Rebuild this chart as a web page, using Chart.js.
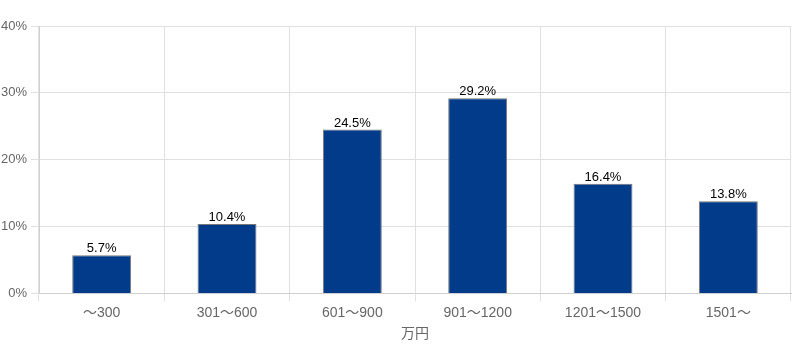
<!DOCTYPE html>
<html><head><meta charset="utf-8">
<script src="https://cdn.jsdelivr.net/npm/chart.js@4/dist/chart.umd.min.js"></script>
<style>html,body{margin:0;padding:0;background:#fff}#wrap{width:792px;height:361px}</style>
</head><body><div id="wrap"><canvas id="c" width="792" height="361"></canvas></div>
<script>
const categories = ["〜300", "301〜600", "601〜900", "901〜1200", "1201〜1500", "1501〜"];
const values = [5.7, 10.4, 24.5, 29.2, 16.4, 13.8];
const yTicks = [0, 10, 20, 30, 40];
const xTitle = "万円";
const FONT = "'Liberation Sans', Arial, 'Noto Sans CJK JP', sans-serif";

const labelPlugin = {
  id: 'barLabels',
  afterDatasetsDraw(chart) {
    const ctx = chart.ctx;
    const meta = chart.getDatasetMeta(0);
    ctx.save();
    ctx.font = "13px " + FONT;
    ctx.fillStyle = "#000";
    ctx.textAlign = "center";
    ctx.textBaseline = "bottom";
    meta.data.forEach((el, i) => {
      ctx.fillText(values[i].toFixed(1) + "%", el.x, el.y);
    });
    ctx.restore();
  }
};

new Chart(document.getElementById('c'), {
  type: 'bar',
  data: {
    labels: categories,
    datasets: [{
      data: values,
      backgroundColor: '#023b89',
      borderColor: '#777777',
      borderWidth: 1,
      categoryPercentage: 0.94,
      barPercentage: 0.5
    }]
  },
  options: {
    responsive: false,
    animation: false,
    layout: { padding: { top: 26, right: 1, bottom: 14, left: 0 } },
    plugins: { legend: { display: false }, tooltip: { enabled: false } },
    scales: {
      x: {
        grid: { color: '#e0e0e0', drawTicks: true, tickLength: 8 },
        border: { color: '#d0d0d0' },
        ticks: { color: '#666', font: { size: 14, family: FONT }, padding: 3 },
        title: { display: true, text: xTitle, color: '#666', font: { size: 14, family: FONT }, padding: { top: 2 } }
      },
      y: {
        min: 0, max: 40,
        afterBuildTicks(axis) { axis.ticks = yTicks.map(v => ({ value: v })); },
        afterFit(axis) { axis.width = 39; },
        grid: { color: '#e0e0e0', tickLength: 8 },
        border: { color: '#d0d0d0' },
        ticks: { color: '#666', font: { size: 13, family: FONT }, padding: 4, callback: v => v + '%' }
      }
    }
  },
  plugins: [labelPlugin]
});
</script></body></html>
